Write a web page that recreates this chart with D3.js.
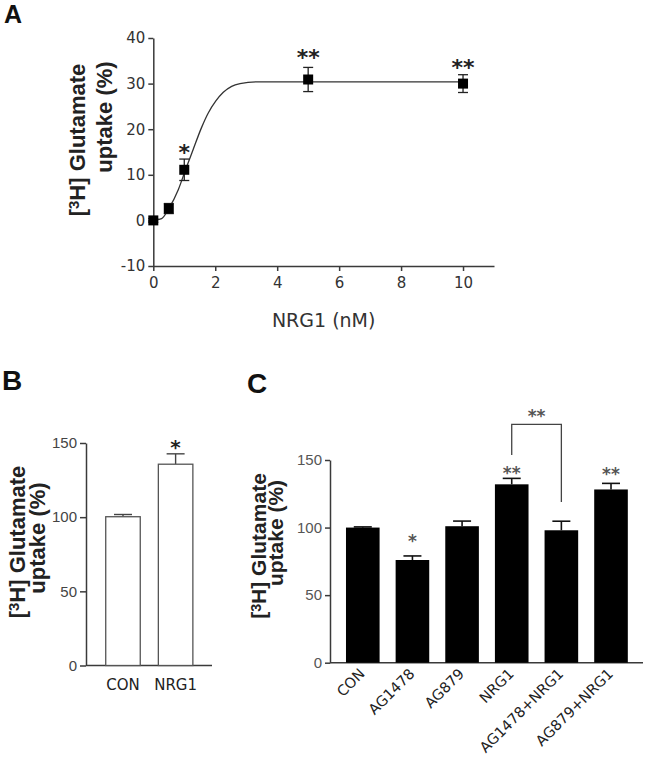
<!DOCTYPE html>
<html>
<head>
<meta charset="utf-8">
<script src="https://cdn.jsdelivr.net/npm/d3@7"></script>
<style>
  html, body { margin: 0; padding: 0; background: #fff; }
  svg { display: block; }
</style>
</head>
<body>
<script>
// ---------- Panel A data ----------
const doseA = [0, 0.5, 1, 5, 10];
const uptakeA = [0, 2.6, 11.1, 30.9, 30.0];
const errA = [0.4, 1.1, 2.35, 2.65, 1.95];
const starsA = ["", "", "*", "**", "**"];
const starLevelA = [null, null, 16, 36.9, 34.8];
const fitDoseA = [0, 0.27, 0.5, 0.81, 1.04, 1.29, 1.56, 1.77, 2.02, 2.26, 2.53, 2.8, 3.33, 10];
const fitUptakeA = [0, 0.4, 2.6, 6.8, 11.1, 15.6, 20.4, 23.5, 26.2, 28.1, 29.4, 30.0, 30.4, 30.4];
const xTicksA = [0, 2, 4, 6, 8, 10];
const yTicksA = [-10, 0, 10, 20, 30, 40];

// ---------- Panel B data ----------
const catsB = ["CON", "NRG1"];
const valsB = [100.3, 135.7];
const errB = [1.5, 7];
const starsB = ["", "*"];
const starLevelB = [null, 150];
const yTicksB = [0, 50, 100, 150];

// ---------- Panel C data ----------
const catsC = ["CON", "AG1478", "AG879", "NRG1", "AG1478+NRG1", "AG879+NRG1"];
const valsC = [100, 76, 101, 132, 98, 128.2];
const errC = [0.5, 3, 3.8, 4.4, 6.7, 4.5];
const starsC = ["", "*", "", "**", "", "**"];
const starLevelC = [null, 93.3, null, 143.4, null, 142.8];
const yTicksC = [0, 50, 100, 150];
// bracket between NRG1 and AG1478+NRG1 (y levels in data units)
const bracketC = { from: "NRG1", to: "AG1478+NRG1", leftLow: 153.7, top: 176.4, rightLow: 119, label: "**", labelLevel: 185.8 };

const W = 646, H = 764;
const svg = d3.select("body").append("svg").attr("width", W).attr("height", H);

const AX = "#3a3a3a";
const TXT = "#222";
const TICKFONT = "'DejaVu Sans', Verdana, sans-serif";
const ARIAL = "'Liberation Sans', Arial, sans-serif";
const fmt = d => String(d);

function styleAxis(g, font, size, color) {
  g.selectAll("path.domain").attr("stroke", AX).attr("stroke-width", 1.5);
  g.selectAll(".tick line").attr("stroke", AX).attr("stroke-width", 1.5);
  g.selectAll(".tick text").attr("fill", color).style("font-family", font).style("font-size", size + "px");
}

// vertical (rotated) label line, centred by measurement at (x baseline, yc centre)
function vText(x, yc, size, build) {
  const t = svg.append("text")
    .attr("text-anchor", "start")
    .style("font-family", ARIAL).style("font-weight", "bold").style("font-size", size + "px")
    .attr("fill", TXT);
  build(t);
  const len = t.node().getComputedTextLength();
  t.attr("transform", `translate(${x},${yc + len / 2}) rotate(-90)`);
}
function yLabel(x1, y1, x2, y2, size) {
  vText(x1, y1, size, t => {
    t.append("tspan").text("[");
    t.append("tspan").attr("baseline-shift", "38%").style("font-size", (size * 0.68) + "px").text("3");
    t.append("tspan").text("H] Glutamate");
  });
  vText(x2, y2, size, t => t.text("uptake (%)"));
}

function panelLetter(t, x, y, size) {
  svg.append("text").attr("x", x).attr("y", y)
    .style("font-family", ARIAL).style("font-weight", "bold").style("font-size", size + "px")
    .attr("fill", "#111").text(t);
}

// ================= Panel A =================
const xA = d3.scaleLinear().domain([0, 11]).range([153.3, 494]);
const yA = d3.scaleLinear().domain([-10, 40]).range([266, 38]);

panelLetter("A", 4, 23, 25);

const gxA = svg.append("g").attr("transform", `translate(0,${yA(-10)})`)
  .call(d3.axisBottom(xA).tickValues(xTicksA).tickFormat(fmt).tickSize(5).tickSizeOuter(0).tickPadding(6));
styleAxis(gxA, TICKFONT, 15, "#333");
const gyA = svg.append("g").attr("transform", `translate(${xA(0)},0)`)
  .call(d3.axisLeft(yA).tickValues(yTicksA).tickFormat(fmt).tickSize(5).tickSizeOuter(0).tickPadding(3));
styleAxis(gyA, TICKFONT, 15, "#333");

svg.append("text").attr("x", (xA(0) + xA(11)) / 2).attr("y", 327)
  .attr("text-anchor", "middle")
  .style("font-family", TICKFONT).style("font-size", "19px").attr("fill", "#333")
  .text("NRG1 (nM)");

yLabel(85, 140, 112, 117, 22);

// fitted curve
const fitPts = fitDoseA.map((d, i) => [d, fitUptakeA[i]]);
svg.append("path")
  .attr("d", d3.line().x(d => xA(d[0])).y(d => yA(d[1])).curve(d3.curveMonotoneX)(fitPts))
  .attr("fill", "none").attr("stroke", "#333").attr("stroke-width", 1.3);

// error bars
const gA = svg.append("g");
doseA.forEach((d, i) => {
  const cx = xA(d), y1 = yA(uptakeA[i] + errA[i]), y0 = yA(uptakeA[i] - errA[i]);
  gA.append("line").attr("x1", cx).attr("x2", cx).attr("y1", y1).attr("y2", y0).attr("stroke", "#222").attr("stroke-width", 1.3);
  [y1, y0].forEach(yy => gA.append("line").attr("x1", cx - 5).attr("x2", cx + 5).attr("y1", yy).attr("y2", yy).attr("stroke", "#222").attr("stroke-width", 1.3));
});
gA.selectAll("rect.pt").data(doseA).enter().append("rect")
  .attr("x", (d) => xA(d) - 5).attr("y", (d, i) => yA(uptakeA[i]) - 5)
  .attr("width", 10).attr("height", 10).attr("fill", "#000");
doseA.forEach((d, i) => {
  if (!starsA[i]) return;
  svg.append("text").attr("x", xA(d)).attr("y", yA(starLevelA[i]) + 13)
    .attr("text-anchor", "middle")
    .style("font-family", TICKFONT).style("font-weight", "bold").style("font-size", "22px")
    .attr("fill", "#222").text(starsA[i]);
});

// ================= Panel B =================
const xB = d3.scaleBand().domain(catsB).range([86, 212.6]).paddingInner(0.344).paddingOuter(0.375);
const yB = d3.scaleLinear().domain([0, 150]).range([665.5, 443]);

panelLetter("B", 2, 390, 28);

const gyB = svg.append("g").attr("transform", `translate(86,0)`)
  .call(d3.axisLeft(yB).tickValues(yTicksB).tickFormat(fmt).tickSize(6).tickSizeOuter(0).tickPadding(3));
styleAxis(gyB, ARIAL, 15, "#444");
svg.append("line").attr("x1", 86).attr("x2", 212).attr("y1", yB(0)).attr("y2", yB(0))
  .attr("stroke", AX).attr("stroke-width", 1.5);

catsB.forEach((c, i) => {
  const cx = xB(c) + xB.bandwidth() / 2;
  const yt = yB(valsB[i] + errB[i]);
  svg.append("line").attr("x1", cx).attr("x2", cx).attr("y1", yB(valsB[i])).attr("y2", yt).attr("stroke", "#444").attr("stroke-width", 1.4);
  svg.append("line").attr("x1", cx - 9).attr("x2", cx + 9).attr("y1", yt).attr("y2", yt).attr("stroke", "#444").attr("stroke-width", 1.4);
});
svg.selectAll("rect.barB").data(catsB).enter().append("rect")
  .attr("x", d => xB(d)).attr("width", xB.bandwidth())
  .attr("y", (d, i) => yB(valsB[i])).attr("height", (d, i) => yB(0) - yB(valsB[i]))
  .attr("fill", "#fff").attr("stroke", "#555").attr("stroke-width", 1.3);
catsB.forEach((c, i) => {
  const cx = xB(c) + xB.bandwidth() / 2;
  svg.append("text").attr("x", cx).attr("y", 690).attr("text-anchor", "middle")
    .style("font-family", TICKFONT).style("font-size", "15px").attr("fill", TXT).text(c);
  if (starsB[i]) {
    svg.append("text").attr("x", cx).attr("y", yB(starLevelB[i]) + 11).attr("text-anchor", "middle")
      .style("font-family", TICKFONT).style("font-weight", "bold").style("font-size", "20px")
      .attr("fill", "#222").text(starsB[i]);
  }
});

yLabel(25, 542, 45, 538, 22);

// ================= Panel C =================
const xC = d3.scaleBand().domain(catsC).range([330, 643.8]).paddingInner(0.323).paddingOuter(0.322);
const yC = d3.scaleLinear().domain([0, 150]).range([662.7, 460]);

panelLetter("C", 247, 393, 28);

const gyC = svg.append("g").attr("transform", `translate(330,0)`)
  .call(d3.axisLeft(yC).tickValues(yTicksC).tickFormat(fmt).tickSize(5).tickSizeOuter(0).tickPadding(3));
styleAxis(gyC, ARIAL, 15, "#555");
svg.append("line").attr("x1", 330).attr("x2", 643).attr("y1", yC(0)).attr("y2", yC(0))
  .attr("stroke", AX).attr("stroke-width", 1.5);

catsC.forEach((c, i) => {
  const cx = xC(c) + xC.bandwidth() / 2;
  const yt = yC(valsC[i] + errC[i]);
  svg.append("line").attr("x1", cx).attr("x2", cx).attr("y1", yC(valsC[i])).attr("y2", yt).attr("stroke", "#111").attr("stroke-width", 1.6);
  svg.append("line").attr("x1", cx - 9).attr("x2", cx + 9).attr("y1", yt).attr("y2", yt).attr("stroke", "#111").attr("stroke-width", 1.6);
});
svg.selectAll("rect.barC").data(catsC).enter().append("rect")
  .attr("x", d => xC(d)).attr("width", xC.bandwidth())
  .attr("y", (d, i) => yC(valsC[i])).attr("height", (d, i) => yC(0) - yC(valsC[i]))
  .attr("fill", "#000");

catsC.forEach((c, i) => {
  const cx = xC(c) + xC.bandwidth() / 2;
  svg.append("text")
    .attr("transform", `translate(${cx + 3},${yC(0) + 12}) rotate(-45)`)
    .attr("text-anchor", "end")
    .style("font-family", TICKFONT).style("font-size", "14.5px").attr("fill", TXT).text(c);
  if (starsC[i]) {
    svg.append("text").attr("x", cx).attr("y", yC(starLevelC[i]) + 10).attr("text-anchor", "middle")
      .style("font-family", TICKFONT).style("font-weight", "bold").style("font-size", "17px")
      .attr("fill", "#555").text(starsC[i]);
  }
});

// bracket
const bx1 = xC(bracketC.from) + xC.bandwidth() / 2;
const bx2 = xC(bracketC.to) + xC.bandwidth() / 2;
svg.append("path")
  .attr("d", `M${bx1},${yC(bracketC.leftLow)}V${yC(bracketC.top)}H${bx2}V${yC(bracketC.rightLow)}`)
  .attr("fill", "none").attr("stroke", "#444").attr("stroke-width", 1.3);
svg.append("text").attr("x", (bx1 + bx2) / 2).attr("y", yC(bracketC.labelLevel) + 10).attr("text-anchor", "middle")
  .style("font-family", TICKFONT).style("font-weight", "bold").style("font-size", "17px")
  .attr("fill", "#555").text(bracketC.label);

yLabel(266, 546, 283, 533, 21);
</script>
</body>
</html>
